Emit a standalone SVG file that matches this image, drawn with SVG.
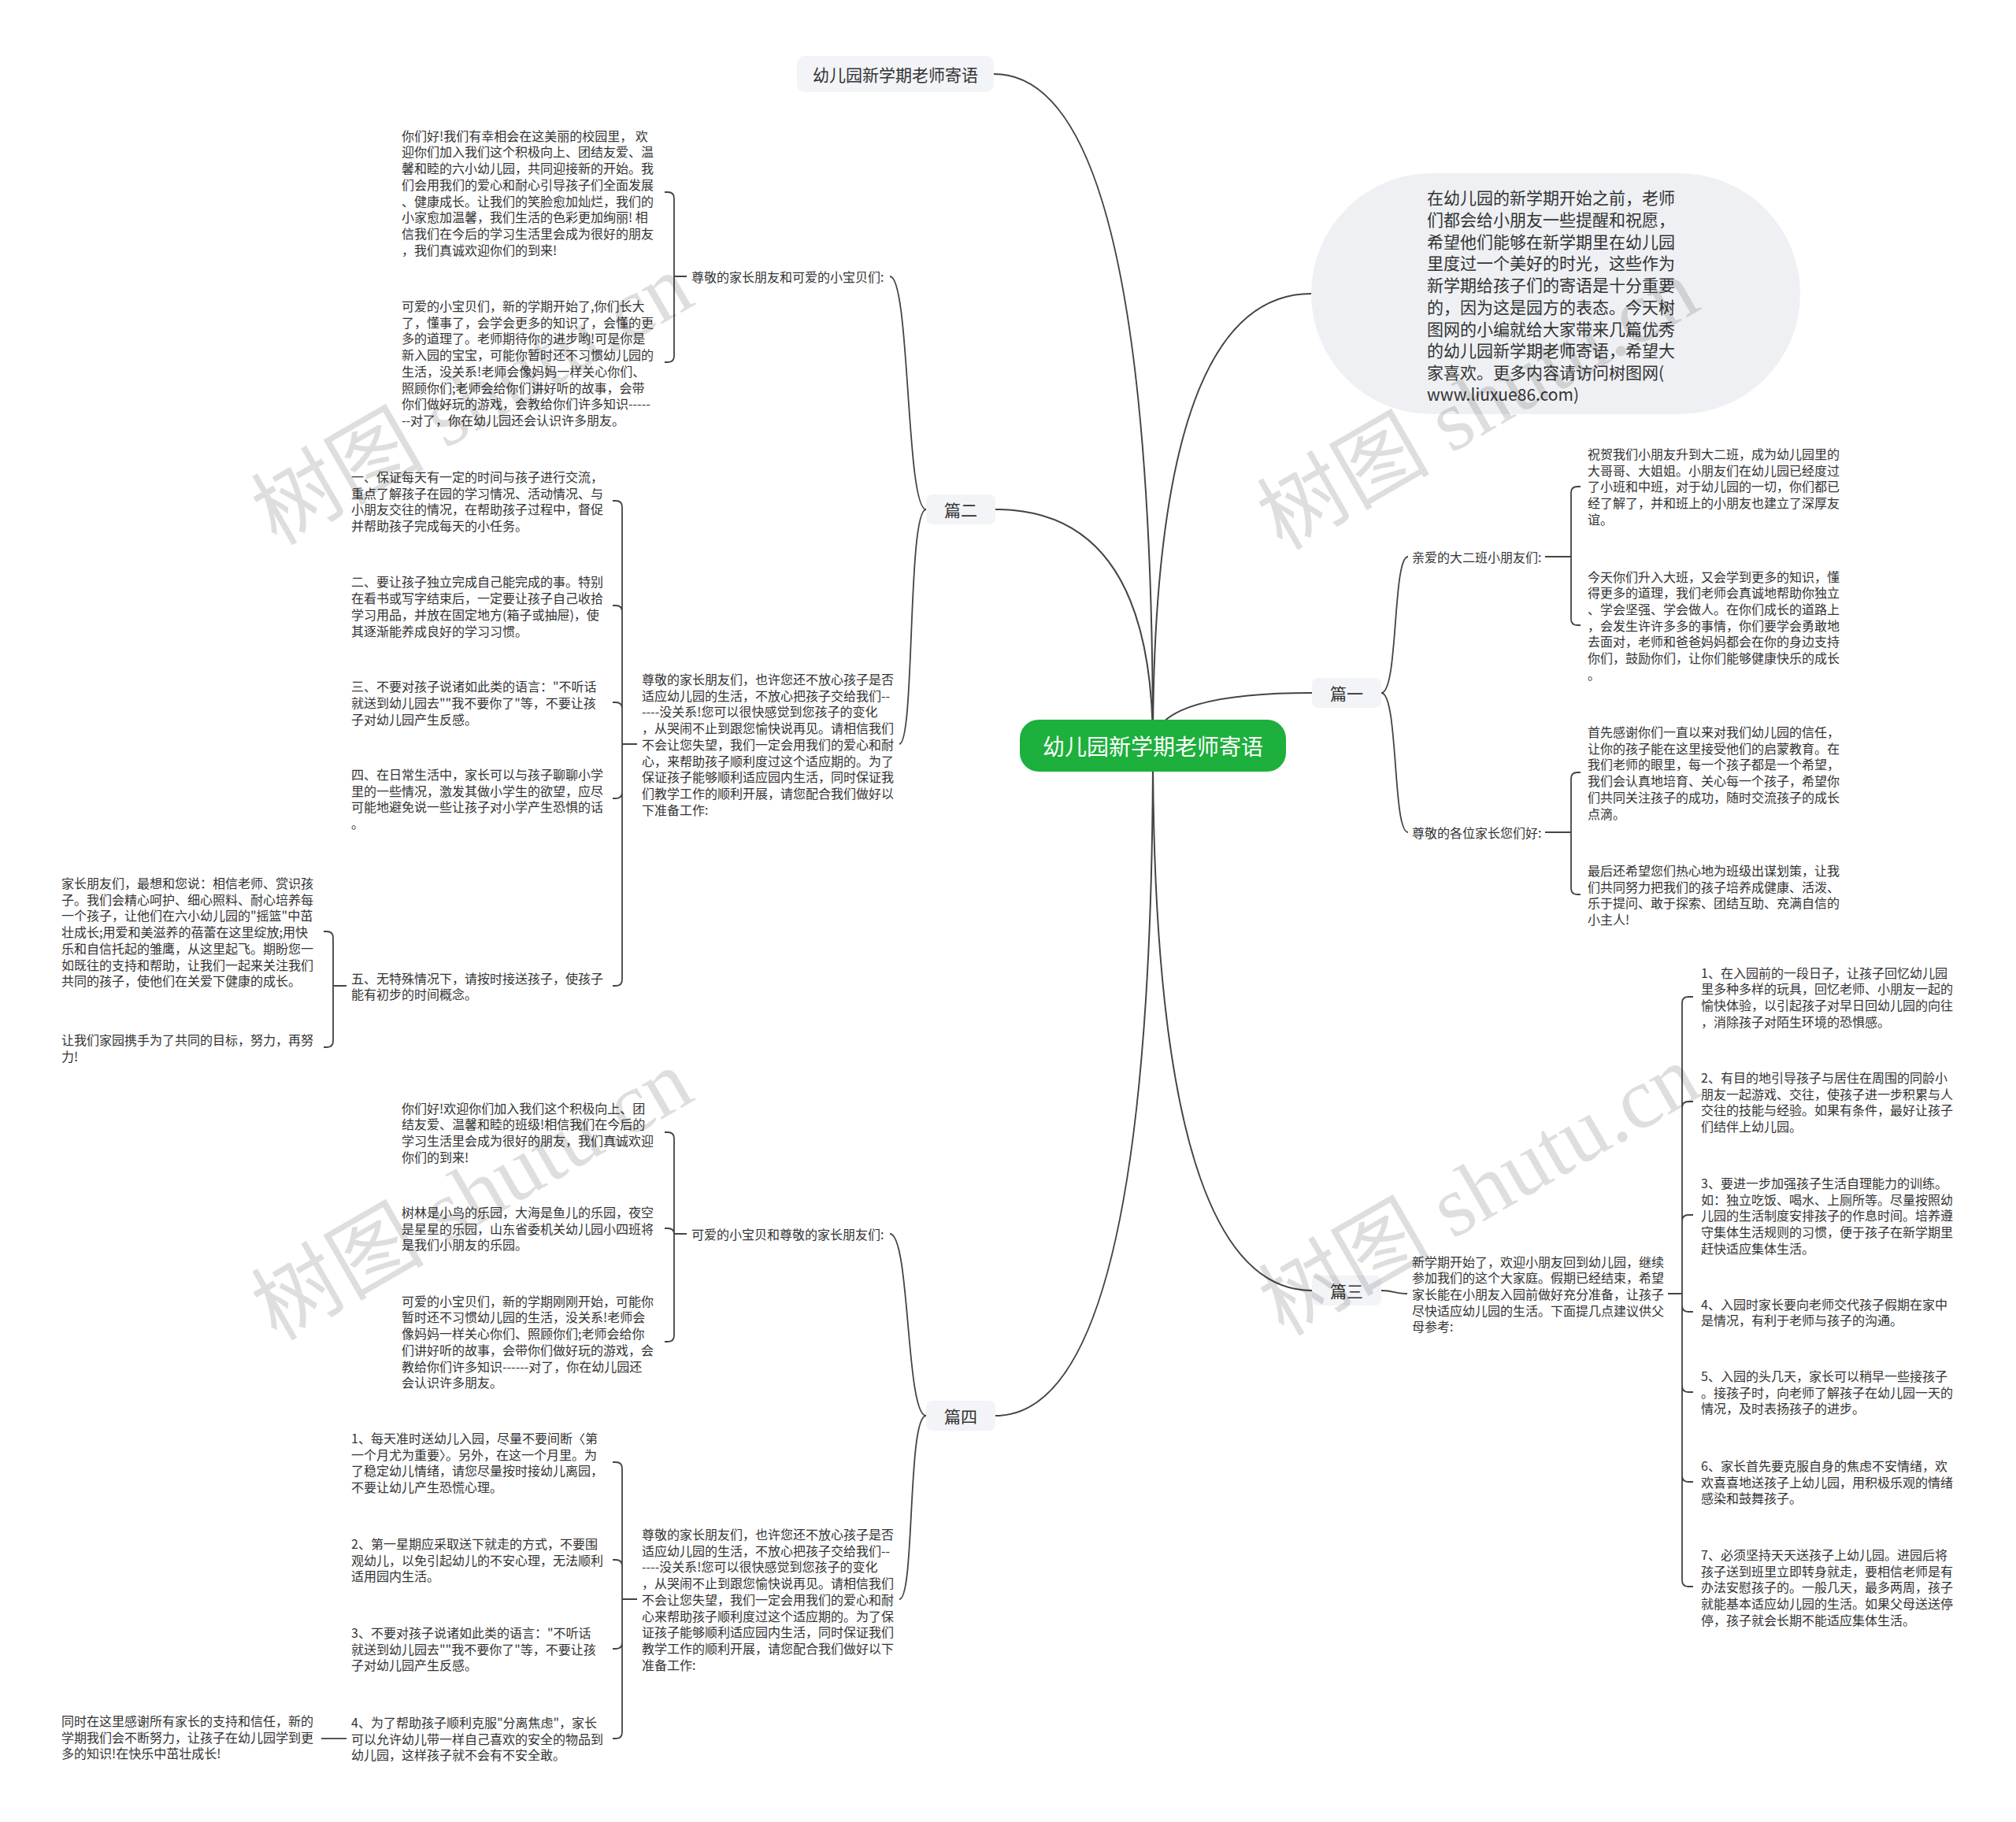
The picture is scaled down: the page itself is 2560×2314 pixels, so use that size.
<svg xmlns="http://www.w3.org/2000/svg" width="2560" height="2314" viewBox="0 0 2560 2314">
<style>
.t{font-family:"Noto Sans CJK SC","Noto Sans",sans-serif;font-size:16px;fill:#333;dominant-baseline:central}
.l1{font-family:"Noto Sans CJK SC","Noto Sans",sans-serif;font-size:21px;fill:#333;dominant-baseline:central;text-anchor:middle}
.s{font-family:"Noto Sans CJK SC","Noto Sans",sans-serif;font-size:21px;fill:#333;dominant-baseline:central}
.e{fill:none;stroke:#444;stroke-width:2}
.b{fill:none;stroke:#444;stroke-width:1.8}
.box{fill:#f2f4f7}
.wm{font-family:"Liberation Serif","Noto Sans CJK SC",serif;font-size:110px;fill:#000;fill-opacity:0.13}
</style>
<rect width="2560" height="2314" fill="#fff"/>
<g id="connectors">
<path class="e" d="M1464 947 Q1464 94 1262 94"/>
<path class="e" d="M1464 947 Q1464 647 1264 647"/>
<path class="e" d="M1464 947 Q1464 1798 1264 1798"/>
<path class="e" d="M1464 947 Q1464 373 1665 373"/>
<path class="e" d="M1464 947 Q1464 880 1666 880"/>
<path class="e" d="M1464 947 Q1464 1639 1666 1639"/>
<path class="b" d="M1176 647 C1150 647 1156 351 1130 351"/>
<path class="b" d="M1176 647 C1152 647 1162 945 1142 945"/>
<path class="b" d="M1176 1798 C1150 1798 1156 1567 1130 1567"/>
<path class="b" d="M1176 1798 C1152 1798 1162 2031 1142 2031"/>
<path class="b" d="M1754 880 C1776 880 1768 707 1788 707"/>
<path class="b" d="M1754 880 C1776 880 1768 1057 1788 1057"/>
<path class="b" d="M1754 1639 C1770 1639 1772 1643 1787 1643"/>
<path class="b" d="M872 351 H856 V252 Q856 244 848 244 H844 M856 351 V452 Q856 460 848 460 H844"/>
<path class="b" d="M809 945 H790 V644 Q790 636 782 636 H778 M790 945 V777 Q790 769 782 769 H778 M790 945 V900 Q790 892 782 892 H778 M790 945 V1006 Q790 1014 782 1014 H778 M790 945 V1244 Q790 1252 782 1252 H778"/>
<path class="b" d="M440 1252 H423 V1191 Q423 1183 415 1183 H411 M423 1252 V1322 Q423 1330 415 1330 H411"/>
<path class="b" d="M872 1567 H856 V1446 Q856 1438 848 1438 H844 M856 1567 Q856 1560 848 1560 H844 M856 1567 V1696 Q856 1704 848 1704 H844"/>
<path class="b" d="M809 2031 H790 V1865 Q790 1857 782 1857 H778 M790 2031 V1989 Q790 1981 782 1981 H778 M790 2031 V2086 Q790 2094 782 2094 H778 M790 2031 V2200 Q790 2208 782 2208 H778"/>
<path class="b" d="M440 2208 H408"/>
<path class="b" d="M1962 707 H1995 V626 Q1995 618 2003 618 H2007 M1995 707 V786 Q1995 794 2003 794 H2007"/>
<path class="b" d="M1962 1057 H1995 V989 Q1995 981 2003 981 H2007 M1995 1057 V1128 Q1995 1136 2003 1136 H2007"/>
<path class="b" d="M2118 1643 H2136 V1274 Q2136 1266 2144 1266 H2150 M2136 1643 V1407 Q2136 1399 2144 1399 H2150 M2136 1643 V1551 Q2136 1543 2144 1543 H2150 M2136 1643 V1658 Q2136 1666 2144 1666 H2150 M2136 1643 V1760 Q2136 1768 2144 1768 H2150 M2136 1643 V1874 Q2136 1882 2144 1882 H2150 M2136 1643 V2007 Q2136 2015 2144 2015 H2150"/>
</g>
<g id="root">
<rect x="1295" y="914" width="338" height="66" rx="24" fill="#1db03c"/>
<text x="1464" y="947" style="font-family:'Noto Sans CJK SC',sans-serif;font-size:28px;fill:#fff;dominant-baseline:central;text-anchor:middle">幼儿园新学期老师寄语</text>
</g>
<g id="n-title">
<rect class="box" x="1012" y="71" width="250" height="46" rx="10"/>
<text class="l1" x="1137" y="94">幼儿园新学期老师寄语</text>
</g>
<g id="n-summary">
<rect x="1665" y="220" width="621" height="306" rx="153" fill="#eef0f3"/>
<text class="s" x="1812" y="250"><tspan x="1812">在幼儿园的新学期开始之前，老师</tspan><tspan x="1812" dy="27.75">们都会给小朋友一些提醒和祝愿，</tspan><tspan x="1812" dy="27.75">希望他们能够在新学期里在幼儿园</tspan><tspan x="1812" dy="27.75">里度过一个美好的时光，这些作为</tspan><tspan x="1812" dy="27.75">新学期给孩子们的寄语是十分重要</tspan><tspan x="1812" dy="27.75">的，因为这是园方的表态。今天树</tspan><tspan x="1812" dy="27.75">图网的小编就给大家带来几篇优秀</tspan><tspan x="1812" dy="27.75">的幼儿园新学期老师寄语，希望大</tspan><tspan x="1812" dy="27.75">家喜欢。更多内容请访问树图网(</tspan><tspan x="1812" dy="27.75">www.liuxue86.com)</tspan></text>
</g>
<g id="n-pian2">
<rect class="box" x="1176" y="628" width="88" height="38" rx="8"/>
<text class="l1" x="1220" y="647">篇二</text>
</g>
<g id="n-pian4">
<rect class="box" x="1176" y="1779" width="88" height="38" rx="8"/>
<text class="l1" x="1220" y="1798">篇四</text>
</g>
<g id="n-pian1">
<rect class="box" x="1666" y="861" width="88" height="38" rx="8"/>
<text class="l1" x="1710" y="880">篇一</text>
</g>
<g id="n-pian3">
<rect class="box" x="1666" y="1620" width="88" height="38" rx="8"/>
<text class="l1" x="1710" y="1639">篇三</text>
</g>
<g id="p2-label"><text class="t" x="878" y="351">尊敬的家长朋友和可爱的小宝贝们:</text></g>
<g id="p2-a"><text class="t" x="510" y="171.7"><tspan x="510">你们好!我们有幸相会在这美丽的校园里，  欢</tspan><tspan x="510" dy="20.7">迎你们加入我们这个积极向上、团结友爱、温</tspan><tspan x="510" dy="20.7">馨和睦的六小幼儿园，共同迎接新的开始。我</tspan><tspan x="510" dy="20.7">们会用我们的爱心和耐心引导孩子们全面发展</tspan><tspan x="510" dy="20.7">、健康成长。让我们的笑脸愈加灿烂，我们的</tspan><tspan x="510" dy="20.7">小家愈加温馨，我们生活的色彩更加绚丽! 相</tspan><tspan x="510" dy="20.7">信我们在今后的学习生活里会成为很好的朋友</tspan><tspan x="510" dy="20.7">，我们真诚欢迎你们的到来!</tspan></text></g>
<g id="p2-b"><text class="t" x="510" y="388"><tspan x="510">可爱的小宝贝们，新的学期开始了,你们长大</tspan><tspan x="510" dy="20.7">了，懂事了，会学会更多的知识了，会懂的更</tspan><tspan x="510" dy="20.7">多的道理了。老师期待你的进步哟!可是你是</tspan><tspan x="510" dy="20.7">新入园的宝宝，可能你暂时还不习惯幼儿园的</tspan><tspan x="510" dy="20.7">生活，没关系!老师会像妈妈一样关心你们、</tspan><tspan x="510" dy="20.7">照顾你们;老师会给你们讲好听的故事，会带</tspan><tspan x="510" dy="20.7">你们做好玩的游戏，会教给你们许多知识-----</tspan><tspan x="510" dy="20.7">--对了，你在幼儿园还会认识许多朋友。</tspan></text></g>
<g id="p2-para"><text class="t" x="815" y="862"><tspan x="815">尊敬的家长朋友们，也许您还不放心孩子是否</tspan><tspan x="815" dy="20.7">适应幼儿园的生活，不放心把孩子交给我们--</tspan><tspan x="815" dy="20.7">----没关系!您可以很快感觉到您孩子的变化</tspan><tspan x="815" dy="20.7">，从哭闹不止到跟您愉快说再见。请相信我们</tspan><tspan x="815" dy="20.7">不会让您失望，我们一定会用我们的爱心和耐</tspan><tspan x="815" dy="20.7">心，来帮助孩子顺利度过这个适应期的。为了</tspan><tspan x="815" dy="20.7">保证孩子能够顺利适应园内生活，同时保证我</tspan><tspan x="815" dy="20.7">们教学工作的顺利开展，请您配合我们做好以</tspan><tspan x="815" dy="20.7">下准备工作:</tspan></text></g>
<g id="p2-1"><text class="t" x="446" y="605"><tspan x="446">一、保证每天有一定的时间与孩子进行交流，</tspan><tspan x="446" dy="20.7">重点了解孩子在园的学习情况、活动情况、与</tspan><tspan x="446" dy="20.7">小朋友交往的情况，在帮助孩子过程中，督促</tspan><tspan x="446" dy="20.7">并帮助孩子完成每天的小任务。</tspan></text></g>
<g id="p2-2"><text class="t" x="446" y="738.4"><tspan x="446">二、要让孩子独立完成自己能完成的事。特别</tspan><tspan x="446" dy="20.7">在看书或写字结束后，一定要让孩子自己收拾</tspan><tspan x="446" dy="20.7">学习用品，并放在固定地方(箱子或抽屉)，使</tspan><tspan x="446" dy="20.7">其逐渐能养成良好的学习习惯。</tspan></text></g>
<g id="p2-3"><text class="t" x="446" y="871.2"><tspan x="446">三、不要对孩子说诸如此类的语言："不听话</tspan><tspan x="446" dy="20.7">就送到幼儿园去""我不要你了"等，不要让孩</tspan><tspan x="446" dy="20.7">子对幼儿园产生反感。</tspan></text></g>
<g id="p2-4"><text class="t" x="446" y="983"><tspan x="446">四、在日常生活中，家长可以与孩子聊聊小学</tspan><tspan x="446" dy="20.7">里的一些情况，激发其做小学生的欲望，应尽</tspan><tspan x="446" dy="20.7">可能地避免说一些让孩子对小学产生恐惧的话</tspan><tspan x="446" dy="20.7">。</tspan></text></g>
<g id="p2-5"><text class="t" x="446" y="1241.5"><tspan x="446">五、无特殊情况下，请按时接送孩子，使孩子</tspan><tspan x="446" dy="20.7">能有初步的时间概念。</tspan></text></g>
<g id="p2-5a"><text class="t" x="78" y="1121"><tspan x="78">家长朋友们，最想和您说：相信老师、赏识孩</tspan><tspan x="78" dy="20.7">子。我们会精心呵护、细心照料、耐心培养每</tspan><tspan x="78" dy="20.7">一个孩子，让他们在六小幼儿园的"摇篮"中茁</tspan><tspan x="78" dy="20.7">壮成长;用爱和美滋养的蓓蕾在这里绽放;用快</tspan><tspan x="78" dy="20.7">乐和自信托起的雏鹰，从这里起飞。期盼您一</tspan><tspan x="78" dy="20.7">如既往的支持和帮助，让我们一起来关注我们</tspan><tspan x="78" dy="20.7">共同的孩子，使他们在关爱下健康的成长。</tspan></text></g>
<g id="p2-5b"><text class="t" x="78" y="1320"><tspan x="78">让我们家园携手为了共同的目标，努力，再努</tspan><tspan x="78" dy="20.7">力!</tspan></text></g>
<g id="p4-label"><text class="t" x="878" y="1567">可爱的小宝贝和尊敬的家长朋友们:</text></g>
<g id="p4-a"><text class="t" x="510" y="1406.7"><tspan x="510">你们好!欢迎你们加入我们这个积极向上、团</tspan><tspan x="510" dy="20.7">结友爱、温馨和睦的班级!相信我们在今后的</tspan><tspan x="510" dy="20.7">学习生活里会成为很好的朋友，我们真诚欢迎</tspan><tspan x="510" dy="20.7">你们的到来!</tspan></text></g>
<g id="p4-b"><text class="t" x="510" y="1539"><tspan x="510">树林是小鸟的乐园，大海是鱼儿的乐园，夜空</tspan><tspan x="510" dy="20.7">是星星的乐园，山东省委机关幼儿园小四班将</tspan><tspan x="510" dy="20.7">是我们小朋友的乐园。</tspan></text></g>
<g id="p4-c"><text class="t" x="510" y="1651.7"><tspan x="510">可爱的小宝贝们，新的学期刚刚开始，可能你</tspan><tspan x="510" dy="20.7">暂时还不习惯幼儿园的生活，没关系!老师会</tspan><tspan x="510" dy="20.7">像妈妈一样关心你们、照顾你们;老师会给你</tspan><tspan x="510" dy="20.7">们讲好听的故事，会带你们做好玩的游戏，会</tspan><tspan x="510" dy="20.7">教给你们许多知识------对了，你在幼儿园还</tspan><tspan x="510" dy="20.7">会认识许多朋友。</tspan></text></g>
<g id="p4-para"><text class="t" x="815" y="1948"><tspan x="815">尊敬的家长朋友们，也许您还不放心孩子是否</tspan><tspan x="815" dy="20.7">适应幼儿园的生活，不放心把孩子交给我们--</tspan><tspan x="815" dy="20.7">----没关系!您可以很快感觉到您孩子的变化</tspan><tspan x="815" dy="20.7">，从哭闹不止到跟您愉快说再见。请相信我们</tspan><tspan x="815" dy="20.7">不会让您失望，我们一定会用我们的爱心和耐</tspan><tspan x="815" dy="20.7">心来帮助孩子顺利度过这个适应期的。为了保</tspan><tspan x="815" dy="20.7">证孩子能够顺利适应园内生活，同时保证我们</tspan><tspan x="815" dy="20.7">教学工作的顺利开展，请您配合我们做好以下</tspan><tspan x="815" dy="20.7">准备工作:</tspan></text></g>
<g id="p4-1"><text class="t" x="446" y="1826"><tspan x="446">1、每天准时送幼儿入园，尽量不要间断〈第</tspan><tspan x="446" dy="20.7">一个月尤为重要〉。另外，在这一个月里。为</tspan><tspan x="446" dy="20.7">了稳定幼儿情绪，请您尽量按时接幼儿离园，</tspan><tspan x="446" dy="20.7">不要让幼儿产生恐慌心理。</tspan></text></g>
<g id="p4-2"><text class="t" x="446" y="1960"><tspan x="446">2、第一星期应采取送下就走的方式，不要围</tspan><tspan x="446" dy="20.7">观幼儿，以免引起幼儿的不安心理，无法顺利</tspan><tspan x="446" dy="20.7">适用园内生活。</tspan></text></g>
<g id="p4-3"><text class="t" x="446" y="2073"><tspan x="446">3、不要对孩子说诸如此类的语言："不听话</tspan><tspan x="446" dy="20.7">就送到幼儿园去""我不要你了"等，不要让孩</tspan><tspan x="446" dy="20.7">子对幼儿园产生反感。</tspan></text></g>
<g id="p4-4"><text class="t" x="446" y="2187"><tspan x="446">4、为了帮助孩子顺利克服"分离焦虑"，家长</tspan><tspan x="446" dy="20.7">可以允许幼儿带一样自己喜欢的安全的物品到</tspan><tspan x="446" dy="20.7">幼儿园，这样孩子就不会有不安全敢。</tspan></text></g>
<g id="p4-4a"><text class="t" x="78" y="2185"><tspan x="78">同时在这里感谢所有家长的支持和信任，新的</tspan><tspan x="78" dy="20.7">学期我们会不断努力，让孩子在幼儿园学到更</tspan><tspan x="78" dy="20.7">多的知识!在快乐中茁壮成长!</tspan></text></g>
<g id="p1-label1"><text class="t" x="1793" y="707">亲爱的大二班小朋友们:</text></g>
<g id="p1-a"><text class="t" x="2016" y="576"><tspan x="2016">祝贺我们小朋友升到大二班，成为幼儿园里的</tspan><tspan x="2016" dy="20.7">大哥哥、大姐姐。小朋友们在幼儿园已经度过</tspan><tspan x="2016" dy="20.7">了小班和中班，对于幼儿园的一切，你们都已</tspan><tspan x="2016" dy="20.7">经了解了，并和班上的小朋友也建立了深厚友</tspan><tspan x="2016" dy="20.7">谊。</tspan></text></g>
<g id="p1-b"><text class="t" x="2016" y="731.5"><tspan x="2016">今天你们升入大班，又会学到更多的知识，懂</tspan><tspan x="2016" dy="20.7">得更多的道理，我们老师会真诚地帮助你独立</tspan><tspan x="2016" dy="20.7">、学会坚强、学会做人。在你们成长的道路上</tspan><tspan x="2016" dy="20.7">，会发生许许多多的事情，你们要学会勇敢地</tspan><tspan x="2016" dy="20.7">去面对，老师和爸爸妈妈都会在你的身边支持</tspan><tspan x="2016" dy="20.7">你们，鼓励你们，让你们能够健康快乐的成长</tspan><tspan x="2016" dy="20.7">。</tspan></text></g>
<g id="p1-label2"><text class="t" x="1793" y="1057">尊敬的各位家长您们好:</text></g>
<g id="p1-c"><text class="t" x="2016" y="929"><tspan x="2016">首先感谢你们一直以来对我们幼儿园的信任，</tspan><tspan x="2016" dy="20.7">让你的孩子能在这里接受他们的启蒙教育。在</tspan><tspan x="2016" dy="20.7">我们老师的眼里，每一个孩子都是一个希望，</tspan><tspan x="2016" dy="20.7">我们会认真地培育、关心每一个孩子，希望你</tspan><tspan x="2016" dy="20.7">们共同关注孩子的成功，随时交流孩子的成长</tspan><tspan x="2016" dy="20.7">点滴。</tspan></text></g>
<g id="p1-d"><text class="t" x="2016" y="1105"><tspan x="2016">最后还希望您们热心地为班级出谋划策，让我</tspan><tspan x="2016" dy="20.7">们共同努力把我们的孩子培养成健康、活泼、</tspan><tspan x="2016" dy="20.7">乐于提问、敢于探索、团结互助、充满自信的</tspan><tspan x="2016" dy="20.7">小主人!</tspan></text></g>
<g id="p3-para"><text class="t" x="1793" y="1601.6"><tspan x="1793">新学期开始了，欢迎小朋友回到幼儿园，继续</tspan><tspan x="1793" dy="20.7">参加我们的这个大家庭。假期已经结束，希望</tspan><tspan x="1793" dy="20.7">家长能在小朋友入园前做好充分准备，让孩子</tspan><tspan x="1793" dy="20.7">尽快适应幼儿园的生活。下面提几点建议供父</tspan><tspan x="1793" dy="20.7">母参考:</tspan></text></g>
<g id="p3-1"><text class="t" x="2160" y="1234.5"><tspan x="2160">1、在入园前的一段日子，让孩子回忆幼儿园</tspan><tspan x="2160" dy="20.7">里多种多样的玩具，回忆老师、小朋友一起的</tspan><tspan x="2160" dy="20.7">愉快体验，以引起孩子对早日回幼儿园的向往</tspan><tspan x="2160" dy="20.7">，消除孩子对陌生环境的恐惧感。</tspan></text></g>
<g id="p3-2"><text class="t" x="2160" y="1368"><tspan x="2160">2、有目的地引导孩子与居住在周围的同龄小</tspan><tspan x="2160" dy="20.7">朋友一起游戏、交往，使孩子进一步积累与人</tspan><tspan x="2160" dy="20.7">交往的技能与经验。如果有条件，最好让孩子</tspan><tspan x="2160" dy="20.7">们结伴上幼儿园。</tspan></text></g>
<g id="p3-3"><text class="t" x="2160" y="1502"><tspan x="2160">3、要进一步加强孩子生活自理能力的训练。</tspan><tspan x="2160" dy="20.7">如：独立吃饭、喝水、上厕所等。尽量按照幼</tspan><tspan x="2160" dy="20.7">儿园的生活制度安排孩子的作息时间。培养遵</tspan><tspan x="2160" dy="20.7">守集体生活规则的习惯，便于孩子在新学期里</tspan><tspan x="2160" dy="20.7">赶快适应集体生活。</tspan></text></g>
<g id="p3-4"><text class="t" x="2160" y="1655.6"><tspan x="2160">4、入园时家长要向老师交代孩子假期在家中</tspan><tspan x="2160" dy="20.7">是情况，有利于老师与孩子的沟通。</tspan></text></g>
<g id="p3-5"><text class="t" x="2160" y="1747"><tspan x="2160">5、入园的头几天，家长可以稍早一些接孩子</tspan><tspan x="2160" dy="20.7">。接孩子时，向老师了解孩子在幼儿园一天的</tspan><tspan x="2160" dy="20.7">情况，及时表扬孩子的进步。</tspan></text></g>
<g id="p3-6"><text class="t" x="2160" y="1861"><tspan x="2160">6、家长首先要克服自身的焦虑不安情绪，欢</tspan><tspan x="2160" dy="20.7">欢喜喜地送孩子上幼儿园，用积极乐观的情绪</tspan><tspan x="2160" dy="20.7">感染和鼓舞孩子。</tspan></text></g>
<g id="p3-7"><text class="t" x="2160" y="1974"><tspan x="2160">7、必须坚持天天送孩子上幼儿园。进园后将</tspan><tspan x="2160" dy="20.7">孩子送到班里立即转身就走，要相信老师是有</tspan><tspan x="2160" dy="20.7">办法安慰孩子的。一般几天，最多两周，孩子</tspan><tspan x="2160" dy="20.7">就能基本适应幼儿园的生活。如果父母送送停</tspan><tspan x="2160" dy="20.7">停，孩子就会长期不能适应集体生活。</tspan></text></g>
<g id="watermarks">
<text class="wm" x="351" y="694" transform="rotate(-30 351 694)">树图 shutu.cn</text>
<text class="wm" x="1628" y="700" transform="rotate(-30 1628 700)">树图 shutu.cn</text>
<text class="wm" x="351" y="1704" transform="rotate(-30 351 1704)">树图 shutu.cn</text>
<text class="wm" x="1630" y="1698" transform="rotate(-30 1630 1698)">树图 shutu.cn</text>
</g>
</svg>
